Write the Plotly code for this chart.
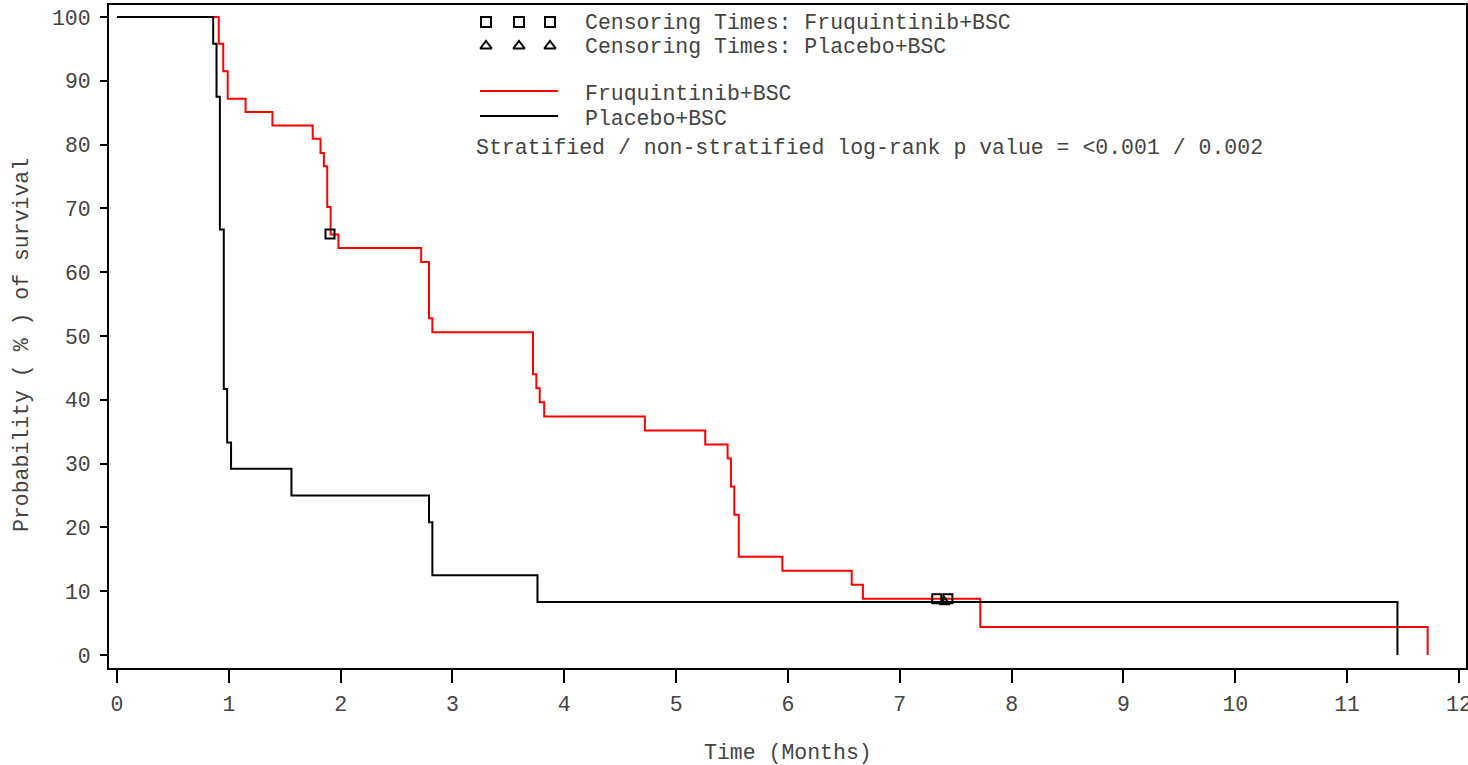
import plotly.graph_objects as go

# ---- data ----
fruq_time = [0, 0.91, 0.95, 0.99, 1.15, 1.39, 1.75, 1.82, 1.85, 1.88, 1.91, 1.98,
             2.72, 2.79, 2.82, 3.72, 3.75, 3.78, 3.82, 4.72, 5.26, 5.46, 5.49,
             5.52, 5.56, 5.95, 6.57, 6.67, 7.72, 11.72]
fruq_surv = [100, 95.8, 91.5, 87.2, 85.1, 83.0, 80.9, 78.7, 76.6, 70.2, 65.9, 63.8,
             61.6, 52.8, 50.6, 44.0, 41.8, 39.6, 37.4, 35.2, 33.0, 30.8, 26.4,
             22.0, 15.4, 13.2, 11.0, 8.8, 4.4, 0]
fruq_cens_time = [1.905, 7.33, 7.43]
fruq_cens_surv = [66.0, 8.8, 8.8]

plac_time = [0, 0.86, 0.89, 0.92, 0.955, 0.985, 1.02, 1.56, 2.79, 2.82, 3.76, 11.45]
plac_surv = [100, 95.8, 87.5, 66.7, 41.7, 33.3, 29.2, 25.0, 20.8, 12.5, 8.3, 0]
plac_cens_time = [7.40]
plac_cens_surv = [8.3]

x_ticks = list(range(0, 13))
y_ticks = list(range(0, 101, 10))

FONT = "Liberation Mono, Courier New, monospace"
TXT = "#444444"
FS = 21.5

fig = go.Figure()

fig.add_trace(go.Scatter(x=fruq_time, y=fruq_surv, mode="lines", line_shape="hv",
                         line=dict(color="#FF0000", width=2), name="Fruquintinib+BSC",
                         showlegend=False))
fig.add_trace(go.Scatter(x=plac_time, y=plac_surv, mode="lines", line_shape="hv",
                         line=dict(color="black", width=2), name="Placebo+BSC",
                         showlegend=False))
fig.add_trace(go.Scatter(x=plac_cens_time, y=plac_cens_surv, mode="markers",
                         marker=dict(symbol="triangle-up-open", size=9, color="black",
                                     line=dict(color="black", width=2)),
                         showlegend=False))
fig.add_trace(go.Scatter(x=fruq_cens_time, y=fruq_cens_surv, mode="markers",
                         marker=dict(symbol="square-open", size=9, color="black",
                                     line=dict(color="black", width=2)),
                         showlegend=False))

# ---- custom legend on an overlay axis in pixel units ----
leg_x = [486, 519, 550]
fig.add_trace(go.Scatter(x=leg_x, y=[22] * 3, mode="markers", xaxis="x2", yaxis="y2",
                         marker=dict(symbol="square-open", size=10, color="black",
                                     line=dict(color="black", width=2)),
                         showlegend=False, hoverinfo="skip"))
fig.add_trace(go.Scatter(x=leg_x, y=[46] * 3, mode="markers", xaxis="x2", yaxis="y2",
                         marker=dict(symbol="triangle-up-open", size=10, color="black",
                                     line=dict(color="black", width=2)),
                         showlegend=False, hoverinfo="skip"))
fig.add_trace(go.Scatter(x=[480, 558], y=[91, 91], mode="lines", xaxis="x2", yaxis="y2",
                         line=dict(color="#FF0000", width=2), showlegend=False,
                         hoverinfo="skip"))
fig.add_trace(go.Scatter(x=[480, 558], y=[116, 116], mode="lines", xaxis="x2", yaxis="y2",
                         line=dict(color="black", width=2), showlegend=False,
                         hoverinfo="skip"))

leg_texts = [
    (583, 23, "Censoring Times: Fruquintinib+BSC"),
    (583, 47, "Censoring Times: Placebo+BSC"),
    (583, 94, "Fruquintinib+BSC"),
    (583, 119, "Placebo+BSC"),
    (474, 148, "Stratified / non-stratified log-rank p value = <0.001 / 0.002"),
]
annotations = []
for lx, ly, t in leg_texts:
    annotations.append(dict(x=lx, y=ly, xref="x2", yref="y2", text=t, showarrow=False,
                            xanchor="left", yanchor="middle",
                            font=dict(family=FONT, size=FS, color=TXT)))

annotations.append(dict(x=0.5, y=(668 - 753) / 663, xref="paper", yref="paper",
                        text="Time (Months)", showarrow=False, xanchor="center",
                        yanchor="middle", font=dict(family=FONT, size=FS, color=TXT)))
annotations.append(dict(x=(22 - 109) / 1357, y=(668 - 345) / 663, xref="paper",
                        yref="paper", text="Probability ( % ) of survival",
                        showarrow=False, textangle=-90, xanchor="center",
                        yanchor="middle", font=dict(family=FONT, size=FS, color=TXT)))

fig.update_layout(
    width=1468, height=765,
    margin=dict(l=109, r=2, t=5, b=97, autoexpand=False),
    paper_bgcolor="white", plot_bgcolor="white",
    showlegend=False,
    annotations=annotations,
    xaxis=dict(range=[-0.0715, 12.063], tickmode="array", tickvals=x_ticks,
               ticktext=[str(v) for v in x_ticks], showgrid=False, zeroline=False,
               showline=True, linecolor="black", linewidth=2, mirror=True,
               ticks="outside", ticklen=13, tickwidth=2, tickcolor="black",
               ticklabelstandoff=2, ticklabeloverflow="allow", automargin=False,
               tickfont=dict(family=FONT, size=FS, color=TXT)),
    yaxis=dict(range=[-2.04, 101.88], tickmode="array", tickvals=y_ticks,
               ticktext=[str(v) for v in y_ticks], showgrid=False, zeroline=False,
               showline=True, linecolor="black", linewidth=2, mirror=True,
               ticks="outside", ticklen=7, tickwidth=2, tickcolor="black",
               ticklabelstandoff=5, automargin=False,
               tickfont=dict(family=FONT, size=FS, color=TXT)),
    xaxis2=dict(range=[109, 1466], overlaying="x", visible=False, showgrid=False,
                zeroline=False, automargin=False),
    yaxis2=dict(range=[668, 5], overlaying="y", visible=False, showgrid=False,
                zeroline=False, automargin=False),
)

fig.write_html("out.html", config={"displayModeBar": False},
               post_script="document.body.style.margin='0px';"
                           "document.body.style.overflow='hidden';")
